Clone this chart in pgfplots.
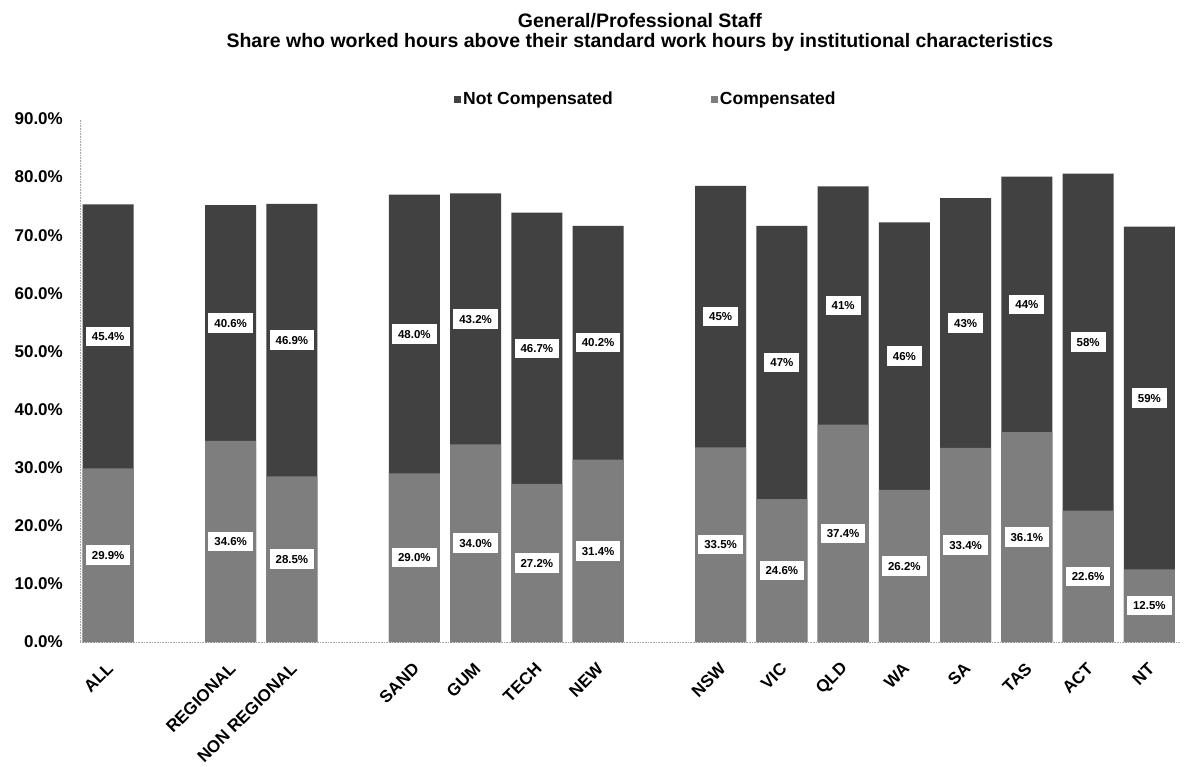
\documentclass[border=0pt]{standalone}
\usepackage{fontspec}
\setmainfont{Liberation Sans}
\usepackage{pgfplots}
\usepackage{pgfplotstable}
\pgfplotsset{compat=1.18}

\definecolor{notcomp}{HTML}{414141}
\definecolor{comp}{HTML}{7E7E7E}

% x = slot position (gaps separate the groups), c = compensated, n = not compensated
\pgfplotstableread{
x  c    n
0  29.9 45.4
2  34.6 40.6
3  28.5 46.9
5  29.0 48.0
6  34.0 43.2
7  27.2 46.7
8  31.4 40.2
10 33.5 45
11 24.6 47
12 37.4 41
13 26.2 46
14 33.4 43
15 36.1 44
16 22.6 58
17 12.5 59
}\staff

\pgfplotsset{
  sqlegend/.style={legend image code/.code={\fill[##1] (0pt,-3.5pt) rectangle (7pt,3.5pt);}},
  barlabel/.style={
    draw=none, mark=none, forget plot,
    nodes near coords align={center},
    every node near coord/.append style={anchor=center, fill=white, text=black,
      inner xsep=6pt, inner ysep=5.5pt, text height=8.5pt, text depth=0pt,
      font=\fontsize{11.5}{13}\selectfont\bfseries},
  },
}

\begin{document}
\begin{tikzpicture}[x=1pt,y=1pt]
\begin{axis}[
  at={(80pt,124pt)}, anchor=south west,
  scale only axis, width=1100pt, height=523pt,
  xmin=-0.46, xmax=17.5, ymin=0, ymax=90,
  axis lines*=left,
  axis line style={-, black!35, densely dotted, line width=0.6pt},
  ytick={0,10,...,90},
  yticklabel={\pgfmathprintnumber[fixed,fixed zerofill,precision=1]{\tick}\%},
  xtick={0,2,3,5,6,7,8,10,11,12,13,14,15,16,17},
  xticklabels={ALL,REGIONAL,NON REGIONAL,SAND,GUM,TECH,NEW,NSW,VIC,QLD,WA,SA,TAS,ACT,NT},
  major tick length=0pt,
  /pgf/number format/assume math mode=true,
  tick label style={font=\fontsize{17}{20}\selectfont\bfseries},
  x tick label style={xshift=2pt, yshift=-24pt, rotate=45, anchor=east, inner sep=0pt},
  y tick label style={xshift=-17pt, anchor=east, inner sep=0pt},
  title={General/Professional Staff\\Share who worked hours above their standard work hours by institutional characteristics},
  title style={at={(0.509,1.168)}, anchor=center, align=center, yshift=-7pt,
    font=\fontsize{19.5}{20}\selectfont\bfseries},
  legend columns=2,
  legend style={at={(0.340,1.038)}, anchor=west, draw=none, fill=none,
    inner sep=0pt, font=\fontsize{17.5}{20}\selectfont\bfseries,
    /tikz/every even column/.append style={column sep=96pt}},
]
\addplot[ybar, bar width=51pt, bar shift=0pt, fill=notcomp, draw=none, sqlegend]
  table[x=x, y expr=\thisrow{c}+\thisrow{n}] {\staff};
\addlegendentry{Not Compensated}
\addplot[ybar, bar width=51pt, bar shift=0pt, fill=comp, draw=none, sqlegend]
  table[x=x, y=c] {\staff};
\addlegendentry{Compensated}

% value labels in the middle of each segment
\addplot[barlabel, point meta=\thisrow{c},
  nodes near coords={\pgfmathprintnumber[fixed,fixed zerofill,precision=1]{\pgfplotspointmeta}\%}]
  table[x=x, y expr=\thisrow{c}/2] {\staff};
\addplot[barlabel, point meta=\thisrow{n}, restrict x to domain=0:8.5,
  nodes near coords={\pgfmathprintnumber[fixed,fixed zerofill,precision=1]{\pgfplotspointmeta}\%}]
  table[x=x, y expr=\thisrow{c}+\thisrow{n}/2] {\staff};
\addplot[barlabel, point meta=\thisrow{n}, restrict x to domain=9:18,
  nodes near coords={\pgfmathprintnumber[fixed,precision=0]{\pgfplotspointmeta}\%}]
  table[x=x, y expr=\thisrow{c}+\thisrow{n}/2] {\staff};
\end{axis}
\pgfresetboundingbox
\path[use as bounding box] (0,0) rectangle (1190pt,766pt);
\end{tikzpicture}
\end{document}
